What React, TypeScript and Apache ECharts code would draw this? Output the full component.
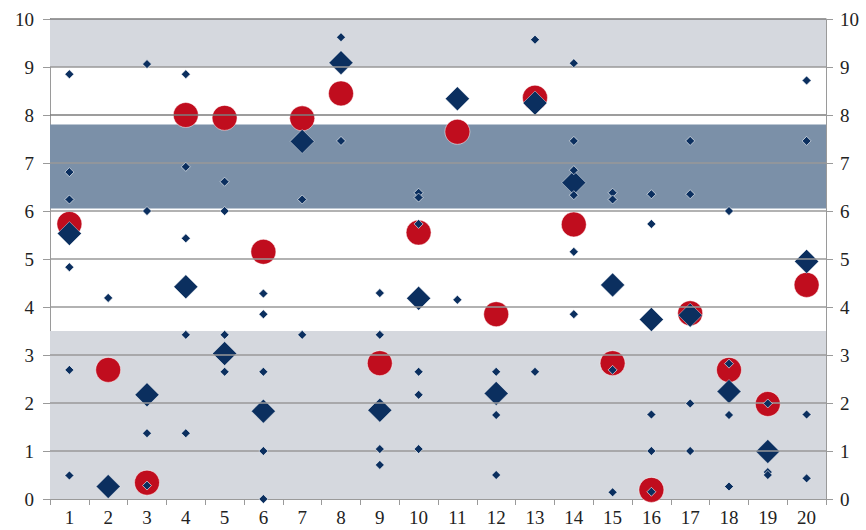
import React, { useEffect, useRef } from "react";
import * as echarts from "echarts";

const categories = ["1","2","3","4","5","6","7","8","9","10","11","12","13","14","15","16","17","18","19","20"];
const redCircles = [5.73, 2.69, 0.34, 8.0, 7.94, 5.15, 7.93, 8.45, 2.83, 5.55, 7.65, 3.85, 8.36, 5.72, 2.83, 0.19, 3.87, 2.69, 1.98, 4.46];
const bigDiamonds = [5.53, 0.26, 2.17, 4.42, 3.03, 1.83, 7.45, 9.09, 1.85, 4.18, 8.34, 2.2, 8.25, 6.59, 4.46, 3.74, 3.83, 2.24, 0.99, 4.95];
const smallDiamonds: number[][] = [
  [8.85, 6.81, 6.24, 4.83, 2.69, 0.49],
  [4.19],
  [9.06, 6.0, 1.37, 0.28],
  [8.85, 6.92, 5.43, 3.42, 1.37],
  [6.61, 6.0, 3.42, 2.65],
  [4.28, 3.85, 2.65, 1.0, 0.0],
  [6.24, 3.42],
  [9.62, 7.46],
  [4.29, 3.42, 1.04, 0.71],
  [6.38, 6.28, 5.73, 2.65, 2.17, 1.04],
  [4.15],
  [2.65, 1.75, 0.5],
  [9.57, 2.65],
  [9.08, 7.46, 6.85, 6.33, 5.15, 3.85],
  [6.38, 6.24, 2.69, 0.14],
  [6.35, 5.73, 1.76, 1.0, 0.15],
  [7.46, 6.35, 1.99, 1.0],
  [6.0, 2.82, 1.75, 0.26],
  [1.99, 0.56, 0.5],
  [8.72, 7.46, 1.76, 0.43],
];
const yTicks = [0, 1, 2, 3, 4, 5, 6, 7, 8, 9, 10];
const bands = [
  { from: 0, to: 3.5, color: "#d5d8de" },
  { from: 6.05, to: 7.8, color: "#7b90a8" },
  { from: 9, to: 10, color: "#d5d8de" },
];

export default function App() {
  const ref = useRef<HTMLDivElement>(null);
  useEffect(() => {
    if (!ref.current) return;
    const chart = echarts.init(ref.current, undefined, { renderer: "svg" });
    const font = "'Liberation Serif', 'Times New Roman', serif";
    const smallData: number[][] = [];
    smallDiamonds.forEach((arr, i) => arr.forEach((v) => smallData.push([i, v])));
    const yAxisBase = {
      type: "value" as const,
      min: 0,
      max: 10,
      interval: 1,
      splitLine: { show: false },
      axisLine: { show: true, lineStyle: { color: "#9a9a9a", width: 1 } },
      axisTick: { show: true, length: 7, lineStyle: { color: "#9a9a9a" } },
    };
    chart.setOption({
      animation: false,
      backgroundColor: "#ffffff",
      grid: { left: 50, right: 40, top: 19, bottom: 31, containLabel: false },
      xAxis: {
        type: "category",
        data: categories,
        boundaryGap: true,
        axisLine: { show: true, lineStyle: { color: "#9a9a9a" } },
        axisTick: { show: true, length: 6, alignWithLabel: false, lineStyle: { color: "#9a9a9a" } },
        axisLabel: { fontFamily: font, fontSize: 19, color: "#222", margin: 9 },
        splitLine: { show: false },
      },
      yAxis: [
        { ...yAxisBase, position: "left", axisLabel: { fontFamily: font, fontSize: 19, color: "#222", margin: 16 } },
        { ...yAxisBase, position: "right", axisLabel: { fontFamily: font, fontSize: 19, color: "#222", margin: 14 } },
      ],
      series: [
        {
          type: "scatter",
          data: [],
          z: 1,
          silent: true,
          markArea: {
            silent: true,
            data: bands.map((b) => [
              { yAxis: b.from, itemStyle: { color: b.color, opacity: 1 } },
              { yAxis: b.to },
            ]),
          },
        },
        {
          type: "scatter",
          data: [],
          z: 1.5,
          silent: true,
          markLine: {
            silent: true,
            symbol: ["none", "none"],
            label: { show: false },
            data: yTicks.filter((t) => t > 0).map((t) => ({
              yAxis: t,
              lineStyle: { color: t === 8 || t === 10 ? "#7d7d7d" : "#999999", width: 1.5, type: "solid", opacity: 1 },
            })),
          },
        },
        {
          type: "scatter",
          data: redCircles.map((v, i) => [i, v]),
          symbol: "circle",
          symbolSize: 25,
          z: 3,
          itemStyle: { color: "#c00d1e", opacity: 1, borderColor: "rgba(255,255,255,0.5)", borderWidth: 1 },
        },
        {
          type: "scatter",
          data: bigDiamonds.map((v, i) => [i, v]),
          symbol: "diamond",
          symbolSize: [24, 24],
          z: 4,
          itemStyle: { color: "#0b2f5f", opacity: 1, borderColor: "rgba(255,255,255,0.4)", borderWidth: 1 },
        },
        {
          type: "scatter",
          data: smallData,
          symbol: "diamond",
          symbolSize: [9, 9],
          z: 5,
          itemStyle: { color: "#0b2f5f", opacity: 1, borderColor: "rgba(255,255,255,0.6)", borderWidth: 1 },
        },
      ],
    });
    return () => chart.dispose();
  }, []);
  return <div ref={ref} style={{ width: 866, height: 530, position: "absolute", left: 0, top: 0 }} />;
}
